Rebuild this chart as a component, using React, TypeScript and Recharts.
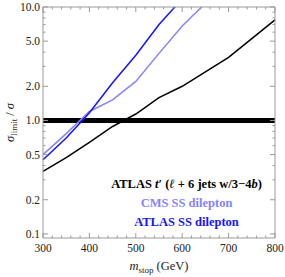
import React from "react"
import { LineChart, Line, XAxis, YAxis, ReferenceLine, Legend, Label } from "recharts"

const masses = [300, 350, 400, 450, 500, 550, 600, 650, 700, 750, 800]
const atlasTprime = [0.356, 0.47, 0.64, 0.885, 1.14, 1.59, 2.0, 2.68, 3.6, 5.26, 7.7]
const cmsSS = [0.5, 0.765, 1.2, 1.52, 2.21, 3.9, 6.8, 10.8, null, null, null]
const atlasSS = [0.45, 0.7, 1.17, 2.15, 3.76, 7.0, 11.8, null, null, null, null]

const seriesNames = ["ATLAS t′ (ℓ + 6 jets w/3−4b)", "CMS SS dilepton", "ATLAS SS dilepton"]

const xTicks = [300, 400, 500, 600, 700, 800]
const xMinorTicks = [320, 340, 360, 380, 420, 440, 460, 480, 520, 540, 560, 580, 620, 640, 660, 680, 720, 740, 760, 780]
const yTicks = [0.1, 0.2, 0.5, 1, 2, 5, 10]
const yTickLabels = ["0.1", "0.2", "0.5", "1.0", "2.0", "5.0", "10.0"]
const yMinorTicks = [0.3, 0.4, 0.6, 0.7, 0.8, 0.9, 3, 4, 6, 7, 8, 9]

const data = masses.map((m, i) => ({
  m,
  atlasTprime: atlasTprime[i],
  cmsSS: cmsSS[i],
  atlasSS: atlasSS[i],
}))

const FONT = "'Liberation Serif', 'Times New Roman', Times, serif"
const FRAME = "#999999"
const TEXT = "#222222"

type Side = "bottom" | "top" | "left" | "right"

function AxisTick(props: any) {
  const { x, y, payload, side, majors, labels } = props
  const v = payload.value
  const idx = majors.findIndex((t: number) => Math.abs(t - v) < 1e-9)
  const len = idx >= 0 ? 5 : 2.5
  const s = side as Side
  if (s === "bottom" || s === "top") {
    const dir = s === "bottom" ? -1 : 1
    return (
      <g>
        <line x1={x} y1={y} x2={x} y2={y + dir * len} stroke={FRAME} strokeWidth={1} />
        {labels && idx >= 0 && (
          <text x={x} y={y + 14} textAnchor="middle" fontFamily={FONT} fontSize={11.5} fill={TEXT}>
            {labels[idx]}
          </text>
        )}
      </g>
    )
  }
  const dir = s === "left" ? 1 : -1
  return (
    <g>
      <line x1={x} y1={y} x2={x + dir * len} y2={y} stroke={FRAME} strokeWidth={1} />
      {labels && idx >= 0 && (
        <text x={x - 3} y={y + 4} textAnchor="end" fontFamily={FONT} fontSize={11.5} fill={TEXT}>
          {labels[idx]}
        </text>
      )}
    </g>
  )
}

const legendLabel = (name: string) => {
  if (name === seriesNames[0]) {
    return (
      <>
        ATLAS <i>t</i>′ (<i>ℓ</i> + 6 jets w/3−4<i>b</i>)
      </>
    )
  }
  return name
}

const renderLegend = (props: any) => {
  const items = [...(props.payload || [])].sort(
    (a: any, b: any) => seriesNames.indexOf(a.value) - seriesNames.indexOf(b.value)
  )
  return (
    <div style={{ fontFamily: FONT, fontWeight: 700, fontSize: 12.5, lineHeight: "19px", textAlign: "center" }}>
      {items.map((e: any) => (
        <div key={e.value} style={{ color: e.color }}>
          {legendLabel(e.value)}
        </div>
      ))}
    </div>
  )
}

const YTitle = (props: any) => {
  const vb = props.viewBox || {}
  const cy = vb.y + vb.height / 2
  const cx = 10
  return (
    <text transform={`rotate(-90, ${cx}, ${cy})`} x={cx} y={cy + 4} textAnchor="middle" fontFamily={FONT} fontSize={12.5} fill={TEXT}>
      <tspan fontStyle="italic">σ</tspan>
      <tspan fontSize={9} dy={3}>limit</tspan>
      <tspan dy={-3}> / </tspan>
      <tspan fontStyle="italic">σ</tspan>
    </text>
  )
}

const XTitle = (props: any) => {
  const vb = props.viewBox || {}
  const cx = vb.x + vb.width / 2
  return (
    <text x={cx} y={270} textAnchor="middle" fontFamily={FONT} fontSize={12.5} fill={TEXT}>
      <tspan fontStyle="italic">m</tspan>
      <tspan fontSize={9} dy={3}>stop</tspan>
      <tspan dy={-3}> (GeV)</tspan>
    </text>
  )
}

export default function App() {
  const xAll = [...xTicks, ...xMinorTicks].sort((a, b) => a - b)
  const yAll = [...yTicks, ...yMinorTicks].sort((a, b) => a - b)
  return (
    <div style={{ position: "absolute", left: 0, top: 0, background: "#fff" }}>
      <LineChart width={285} height={277} data={data} margin={{ top: 6, right: 9, bottom: 0, left: 0 }}>
        <XAxis
          dataKey="m"
          type="number"
          domain={[300, 800]}
          ticks={xAll}
          interval={0}
          height={39}
          stroke={FRAME}
          tickSize={0}
          tickMargin={0}
          tickLine={false}
          tick={(p: any) => <AxisTick {...p} side="bottom" majors={xTicks} labels={xTicks.map(String)} />}
        >
          <Label content={<XTitle />} />
        </XAxis>
        <XAxis
          xAxisId="top"
          orientation="top"
          dataKey="m"
          type="number"
          domain={[300, 800]}
          ticks={xAll}
          interval={0}
          height={1}
          stroke={FRAME}
          tickSize={0}
          tickMargin={0}
          tickLine={false}
          tick={(p: any) => <AxisTick {...p} side="top" majors={xTicks} />}
        />
        <YAxis
          type="number"
          scale="log"
          domain={[0.092, 10]}
          allowDataOverflow
          ticks={yAll}
          interval={0}
          width={43}
          stroke={FRAME}
          tickSize={0}
          tickMargin={0}
          tickLine={false}
          tick={(p: any) => <AxisTick {...p} side="left" majors={yTicks} labels={yTickLabels} />}
        >
          <Label content={<YTitle />} />
        </YAxis>
        <YAxis
          yAxisId="right"
          orientation="right"
          type="number"
          scale="log"
          domain={[0.092, 10]}
          allowDataOverflow
          ticks={yAll}
          interval={0}
          width={1}
          stroke={FRAME}
          tickSize={0}
          tickMargin={0}
          tickLine={false}
          tick={(p: any) => <AxisTick {...p} side="right" majors={yTicks} />}
        />
        <ReferenceLine y={1} stroke="#000" strokeWidth={5} />
        <Line
          dataKey="atlasTprime"
          name={seriesNames[0]}
          stroke="#000000"
          strokeWidth={1.5}
          dot={false}
          isAnimationActive={false}
        />
        <Line
          dataKey="cmsSS"
          name={seriesNames[1]}
          stroke="#8484ff"
          strokeWidth={1.5}
          dot={false}
          isAnimationActive={false}
        />
        <Line
          dataKey="atlasSS"
          name={seriesNames[2]}
          stroke="#1414ff"
          strokeWidth={1.5}
          dot={false}
          isAnimationActive={false}
        />
        <Legend
          layout="vertical"
          align="center"
          verticalAlign="middle"
          content={renderLegend}
          wrapperStyle={{ left: 100, top: 175, width: 173 }}
        />
      </LineChart>
    </div>
  )
}
